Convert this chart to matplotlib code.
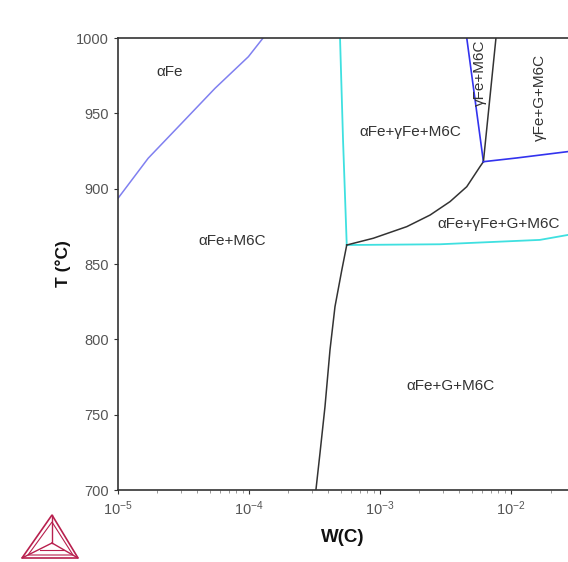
import matplotlib
matplotlib.use("Agg")
import matplotlib.pyplot as plt
from matplotlib.patches import Polygon

plt.rcParams['font.family'] = ['Liberation Sans', 'DejaVu Sans']
plt.rcParams['mathtext.fontset'] = 'custom'
plt.rcParams['mathtext.rm'] = 'Liberation Sans'

# phase boundaries: W(C) and T (degC)
afe_w = [1.0e-5, 1.70e-5, 3.06e-5, 5.50e-5, 9.89e-5, 1.28e-4]
afe_t = [893.6, 920.2, 943.4, 966.6, 987.6, 1000]

cyan_up_w = [4.95e-4, 5.22e-4, 5.57e-4]
cyan_up_t = [1000, 932, 862.6]

cyan_low_w = [5.57e-4, 2.87e-3, 1.66e-2, 2.72e-2]
cyan_low_t = [862.6, 863.1, 866, 869.3]

black_low_w = [3.24e-4, 3.48e-4, 3.80e-4, 4.15e-4, 4.53e-4, 5.11e-4, 5.57e-4]
black_low_t = [700, 724.4, 755.3, 793.0, 821.7, 846.1, 862.6]

black_up_w = [5.57e-4, 8.89e-4, 1.60e-3, 2.41e-3, 3.42e-3, 4.59e-3, 5.79e-3, 6.15e-3]
black_up_t = [862.6, 867.1, 874.8, 882.5, 891.4, 901.3, 914.6, 917.9]

blue_gam_w = [6.15e-3, 4.59e-3]
blue_gam_t = [917.9, 1000]

black_gam_w = [6.15e-3, 7.67e-3]
black_gam_t = [917.9, 1000]

blue_right_w = [6.15e-3, 1.11e-2, 2.72e-2]
blue_right_t = [917.9, 920.4, 924.6]

labels = ["αFe", "αFe+M6C", "αFe+γFe+M6C", "γFe+M6C", "γFe+G+M6C",
          "αFe+γFe+G+M6C", "αFe+G+M6C"]
label_w = [2.49e-5, 7.4e-5, 1.69e-3, 5.8e-3, 1.66e-2, 8.1e-3, 3.42e-3]
label_t = [977.4, 865.3, 937.6, 976.8, 960.8, 876.6, 769]
label_rot = [0, 0, 0, 90, 90, 0, 0]

fig = plt.figure(figsize=(5.68, 5.62), dpi=100)
ax = fig.add_axes([118 / 568, 1 - 490 / 562, 1 - 118 / 568, (490 - 38) / 562])

ax.plot(afe_w, afe_t, color='#8080f0', lw=1.1)
ax.plot(cyan_up_w, cyan_up_t, color='#3fe0e0', lw=1.3)
ax.plot(cyan_low_w, cyan_low_t, color='#3fe0e0', lw=1.3)
ax.plot(black_low_w, black_low_t, color='#333333', lw=1.1)
ax.plot(black_up_w, black_up_t, color='#333333', lw=1.1)
ax.plot(blue_gam_w, blue_gam_t, color='#3333ee', lw=1.2)
ax.plot(black_gam_w, black_gam_t, color='#333333', lw=1.1)
ax.plot(blue_right_w, blue_right_t, color='#3333ee', lw=1.2)

for s, w, t, r in zip(labels, label_w, label_t, label_rot):
    ax.text(w, t, s, rotation=r, ha='center', va='center', fontsize=11,
            color='#333333')

ax.set_xscale('log')
ax.set_xlim(1e-5, 2.72e-2)
ax.set_ylim(700, 1000)
ax.set_yticks([700, 750, 800, 850, 900, 950, 1000])
ax.spines['right'].set_visible(False)
for s in ['left', 'bottom', 'top']:
    ax.spines[s].set_color('#333333')
    ax.spines[s].set_linewidth(1.2)
ax.tick_params(axis='both', which='major', length=3, color='#333333',
               labelsize=10.5, labelcolor='#555555')
ax.tick_params(axis='x', which='minor', length=2, color='#888888')
ax.set_xlabel('W(C)', fontsize=13.5, fontweight='bold', color='#111111', labelpad=8)
ax.set_ylabel('T (°C)', fontsize=12.5, fontweight='bold', color='#111111', labelpad=4)

# logo triangle in the lower left corner
lax = fig.add_axes([0, 0, 118 / 568, 72 / 562])
lax.set_xlim(0, 118)
lax.set_ylim(0, 72)
lax.axis('off')
c = '#b8204e'
apex, bl, br, ctr = (52, 47), (22, 4), (78, 4), (52, 19)
lax.add_patch(Polygon([apex, bl, br], closed=True, fill=False, ec=c, lw=1.2))
lax.add_patch(Polygon([(52, 40), (28, 7), (73, 7)], closed=True, fill=False, ec=c, lw=0.8))
for p in (apex, bl, br):
    lax.plot([ctr[0], p[0]], [ctr[1], p[1]], color=c, lw=1.0)
lax.plot([40, 64], [12, 12], color=c, lw=0.8)

fig.savefig('out.png', dpi=100)
